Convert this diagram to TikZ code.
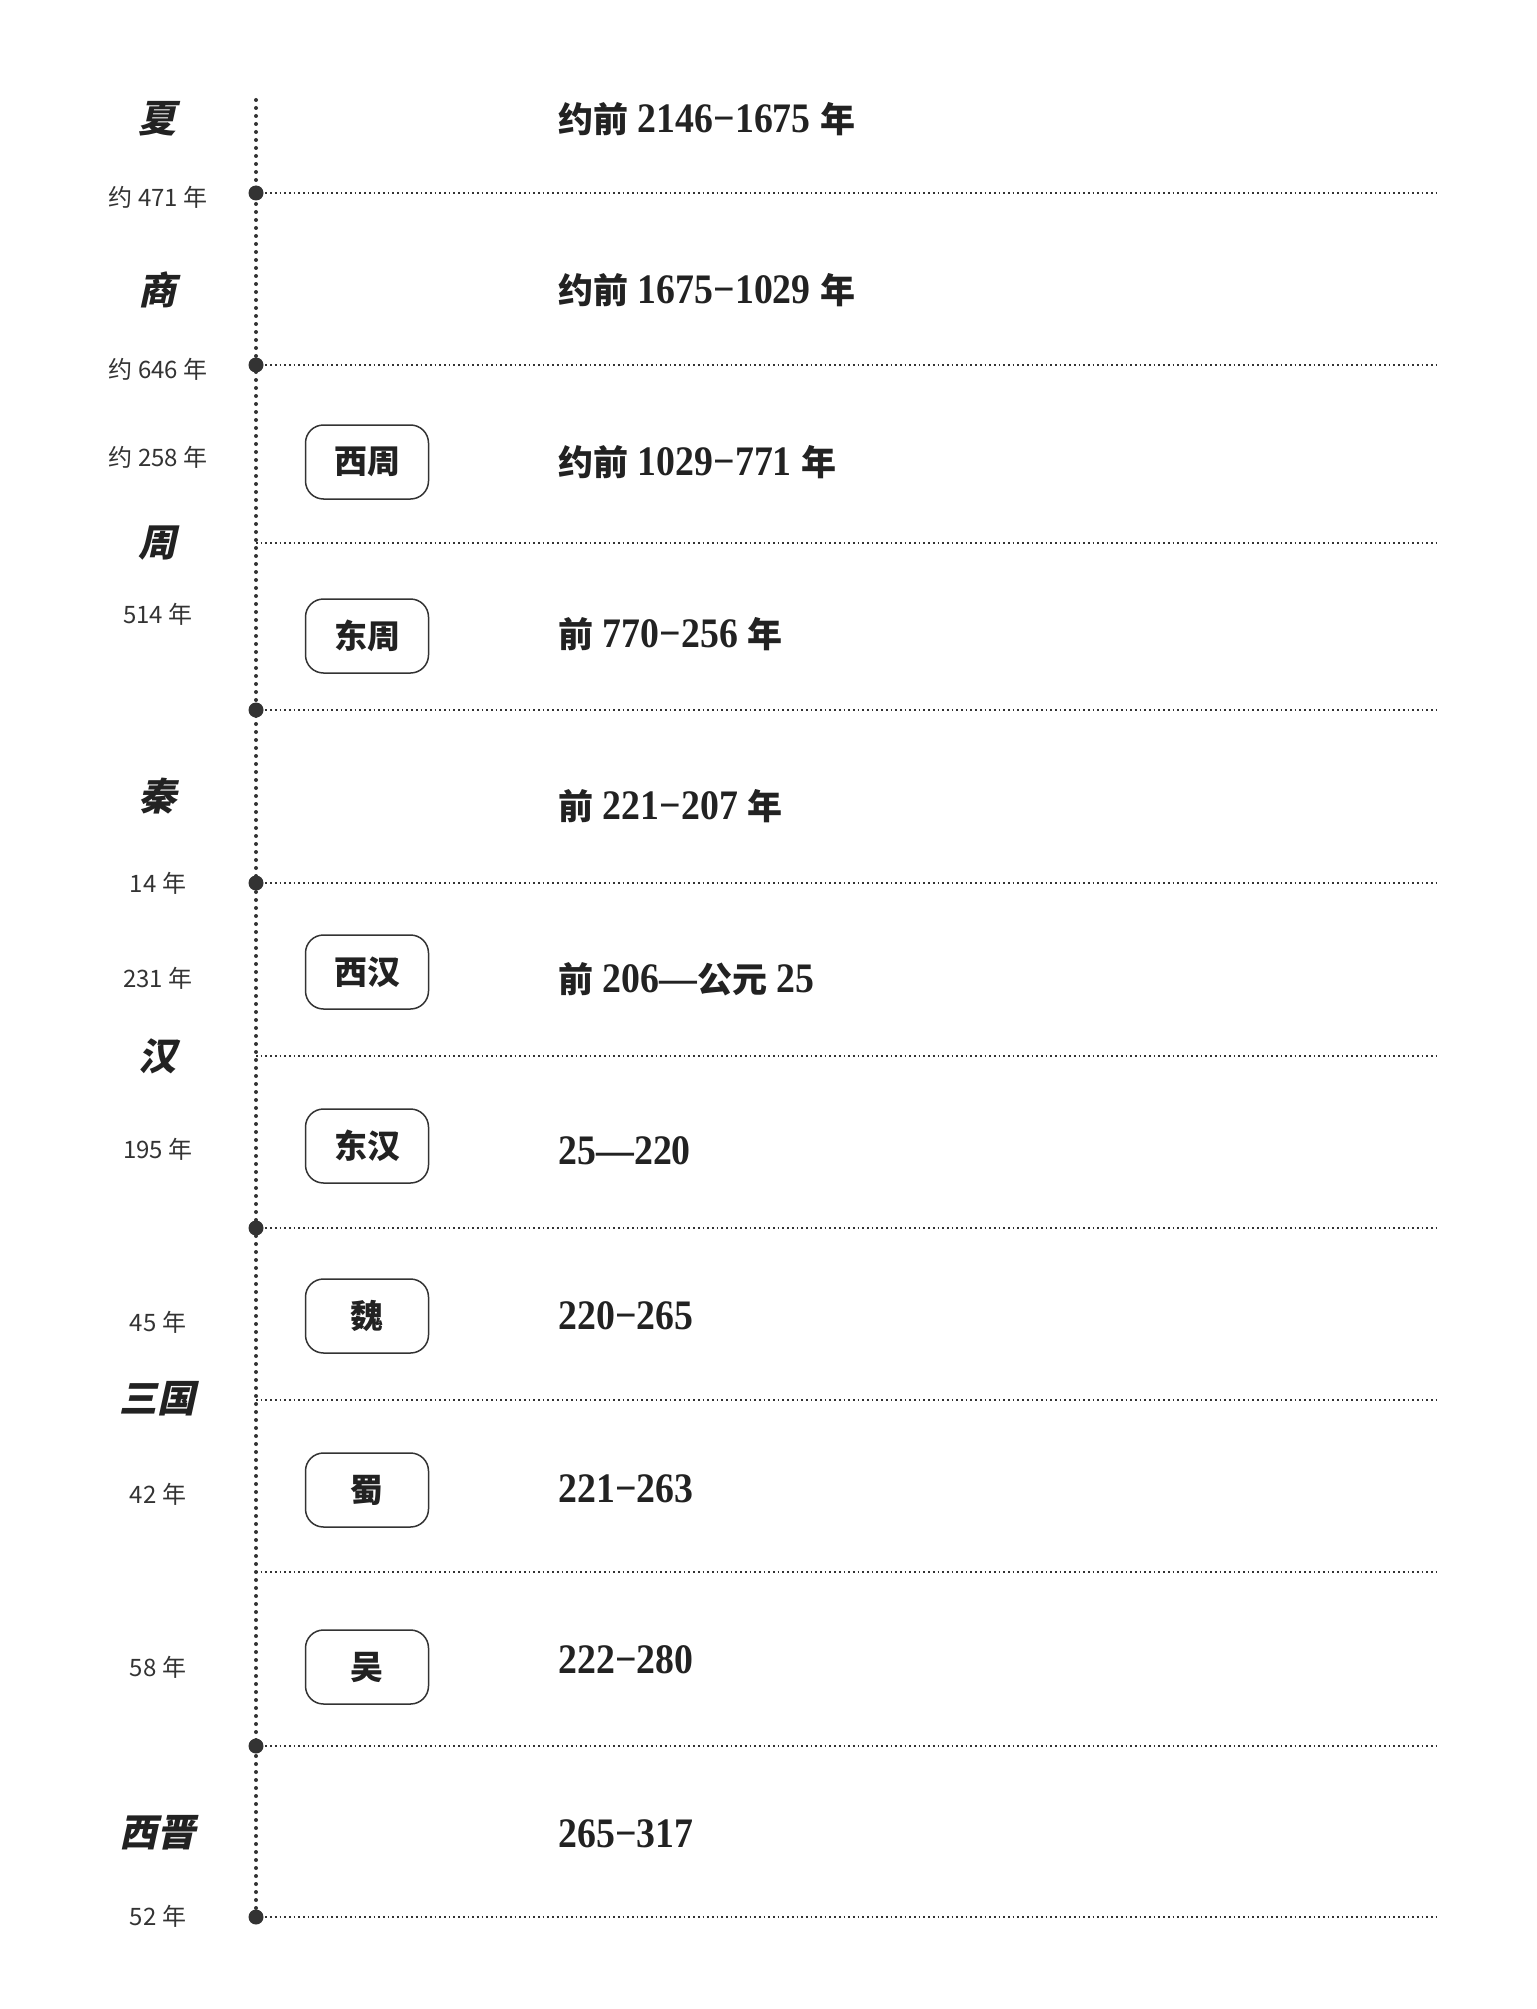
\documentclass[tikz,border=0pt]{standalone}
\usepackage{fontspec}
\setmainfont{Liberation Serif}
\newfontfamily\dgt[FakeStretch=0.9]{Liberation Serif}
\newfontfamily\cjk{Noto Sans CJK SC}
\newfontfamily\cjksl[FakeSlant=0.22]{Noto Sans CJK SC}
\newcommand\zh[1]{{\cjk\bfseries\fontsize{35}{35}\selectfont #1}}
\definecolor{txt}{HTML}{222222}
\definecolor{ink}{HTML}{333333}
\definecolor{gtx}{HTML}{333333}
\begin{document}
\begin{tikzpicture}[x=1pt,y=-1pt,
  lab/.style={font=\cjk\fontsize{24}{24}\selectfont, text=gtx},
  dyn/.style={font=\cjksl\bfseries\fontsize{38}{38}\selectfont, text=txt},
  datetxt/.style={anchor=west, font=\dgt\bfseries\fontsize{42}{42}\selectfont, text=txt},
  era/.style={draw=ink, line width=1.5pt, rounded corners=18pt, minimum width=123pt, minimum height=74pt, inner sep=0pt, font=\cjk\bfseries\fontsize{33}{33}\selectfont, text=txt},
  bigdot/.style={circle, fill=ink, inner sep=0pt, minimum size=14pt},
  vline/.style={draw=ink, line width=4pt, line cap=round, dash pattern=on 0pt off 8pt},
  hline/.style={draw=ink, line width=1.7pt, dash pattern=on 1.7pt off 3pt},
]
\useasboundingbox (0,0) rectangle (1536,2009);
\fill[white] (0,0) rectangle (1536,2009);

% axis points
\coordinate (top) at (256,100);
\node[bigdot] (p1) at (256,193) {};
\node[bigdot] (p2) at (256,365) {};
\coordinate (s3) at (256,543);
\node[bigdot] (p4) at (256,710) {};
\node[bigdot] (p5) at (256,883) {};
\coordinate (s6) at (256,1056);
\node[bigdot] (p7) at (256,1228) {};
\coordinate (s8) at (256,1400);
\coordinate (s9) at (256,1572);
\node[bigdot] (p10) at (256,1746) {};
\node[bigdot] (p11) at (256,1917) {};

\coordinate (e1) at (1437,193);
\coordinate (e2) at (1437,365);
\coordinate (e3) at (1437,543);
\coordinate (e4) at (1437,710);
\coordinate (e5) at (1437,883);
\coordinate (e6) at (1437,1056);
\coordinate (e7) at (1437,1228);
\coordinate (e8) at (1437,1400);
\coordinate (e9) at (1437,1572);
\coordinate (e10) at (1437,1746);
\coordinate (e11) at (1437,1917);

\draw[vline] (top) -- (p11.center);
\draw[hline] (p1.center) -- (e1);
\draw[hline] (p2.center) -- (e2);
\draw[hline] (s3) -- (e3);
\draw[hline] (p4.center) -- (e4);
\draw[hline] (p5.center) -- (e5);
\draw[hline] (s6) -- (e6);
\draw[hline] (p7.center) -- (e7);
\draw[hline] (s8) -- (e8);
\draw[hline] (s9) -- (e9);
\draw[hline] (p10.center) -- (e10);
\draw[hline] (p11.center) -- (e11);
\foreach \p in {p1,p2,p4,p5,p7,p10,p11} \fill[ink] (\p) circle (7.5pt);

% dynasty names
\node[dyn] (xia) at (157,119) {夏};
\node[dyn] (shang) at (157,290) {商};
\node[dyn] (zhou) at (157,543) {周};
\node[dyn] (qin) at (157,796) {秦};
\node[dyn] (han) at (157,1056) {汉};
\node[dyn] (sanguo) at (157,1399) {三国};
\node[dyn] (xijin) at (157,1833) {西晋};

% durations
\node[lab] (l1) at (158,197) {约 471 年};
\node[lab] (l2) at (158,369) {约 646 年};
\node[lab] (l3) at (158,457) {约 258 年};
\node[lab] (l4) at (158,614) {514 年};
\node[lab] (l5) at (158,883) {14 年};
\node[lab] (l6) at (158,978) {231 年};
\node[lab] (l7) at (158,1149) {195 年};
\node[lab] (l8) at (158,1322) {45 年};
\node[lab] (l9) at (158,1494) {42 年};
\node[lab] (l10) at (158,1667) {58 年};
\node[lab] (l11) at (158,1916) {52 年};

% sub-period boxes
\node[era] (xizhou) at (367,462) {西周};
\node[era] (dongzhou) at (367,636) {东周};
\node[era] (xihan) at (367,972) {西汉};
\node[era] (donghan) at (367,1146) {东汉};
\node[era] (wei) at (367,1316) {魏};
\node[era] (shu) at (367,1490) {蜀};
\node[era] (wu) at (367,1667) {吴};

% dates
\node[datetxt] (d1) at (555,119) {\zh{约前} 2146−1675 \zh{年}};
\node[datetxt] (d2) at (555,290) {\zh{约前} 1675−1029 \zh{年}};
\node[datetxt] (d3) at (555,462) {\zh{约前} 1029−771 \zh{年}};
\node[datetxt] (d4) at (555,634) {\zh{前} 770−256 \zh{年}};
\node[datetxt] (d5) at (555,806) {\zh{前} 221−207 \zh{年}};
\node[datetxt] (d6) at (555,979) {\zh{前} 206—\zh{公元} 25};
\node[datetxt] (d7) at (555,1151) {25—220};
\node[datetxt] (d8) at (555,1316) {220−265};
\node[datetxt] (d9) at (555,1489) {221−263};
\node[datetxt] (d10) at (555,1660) {222−280};
\node[datetxt] (d11) at (555,1834) {265−317};
\end{tikzpicture}
\end{document}
